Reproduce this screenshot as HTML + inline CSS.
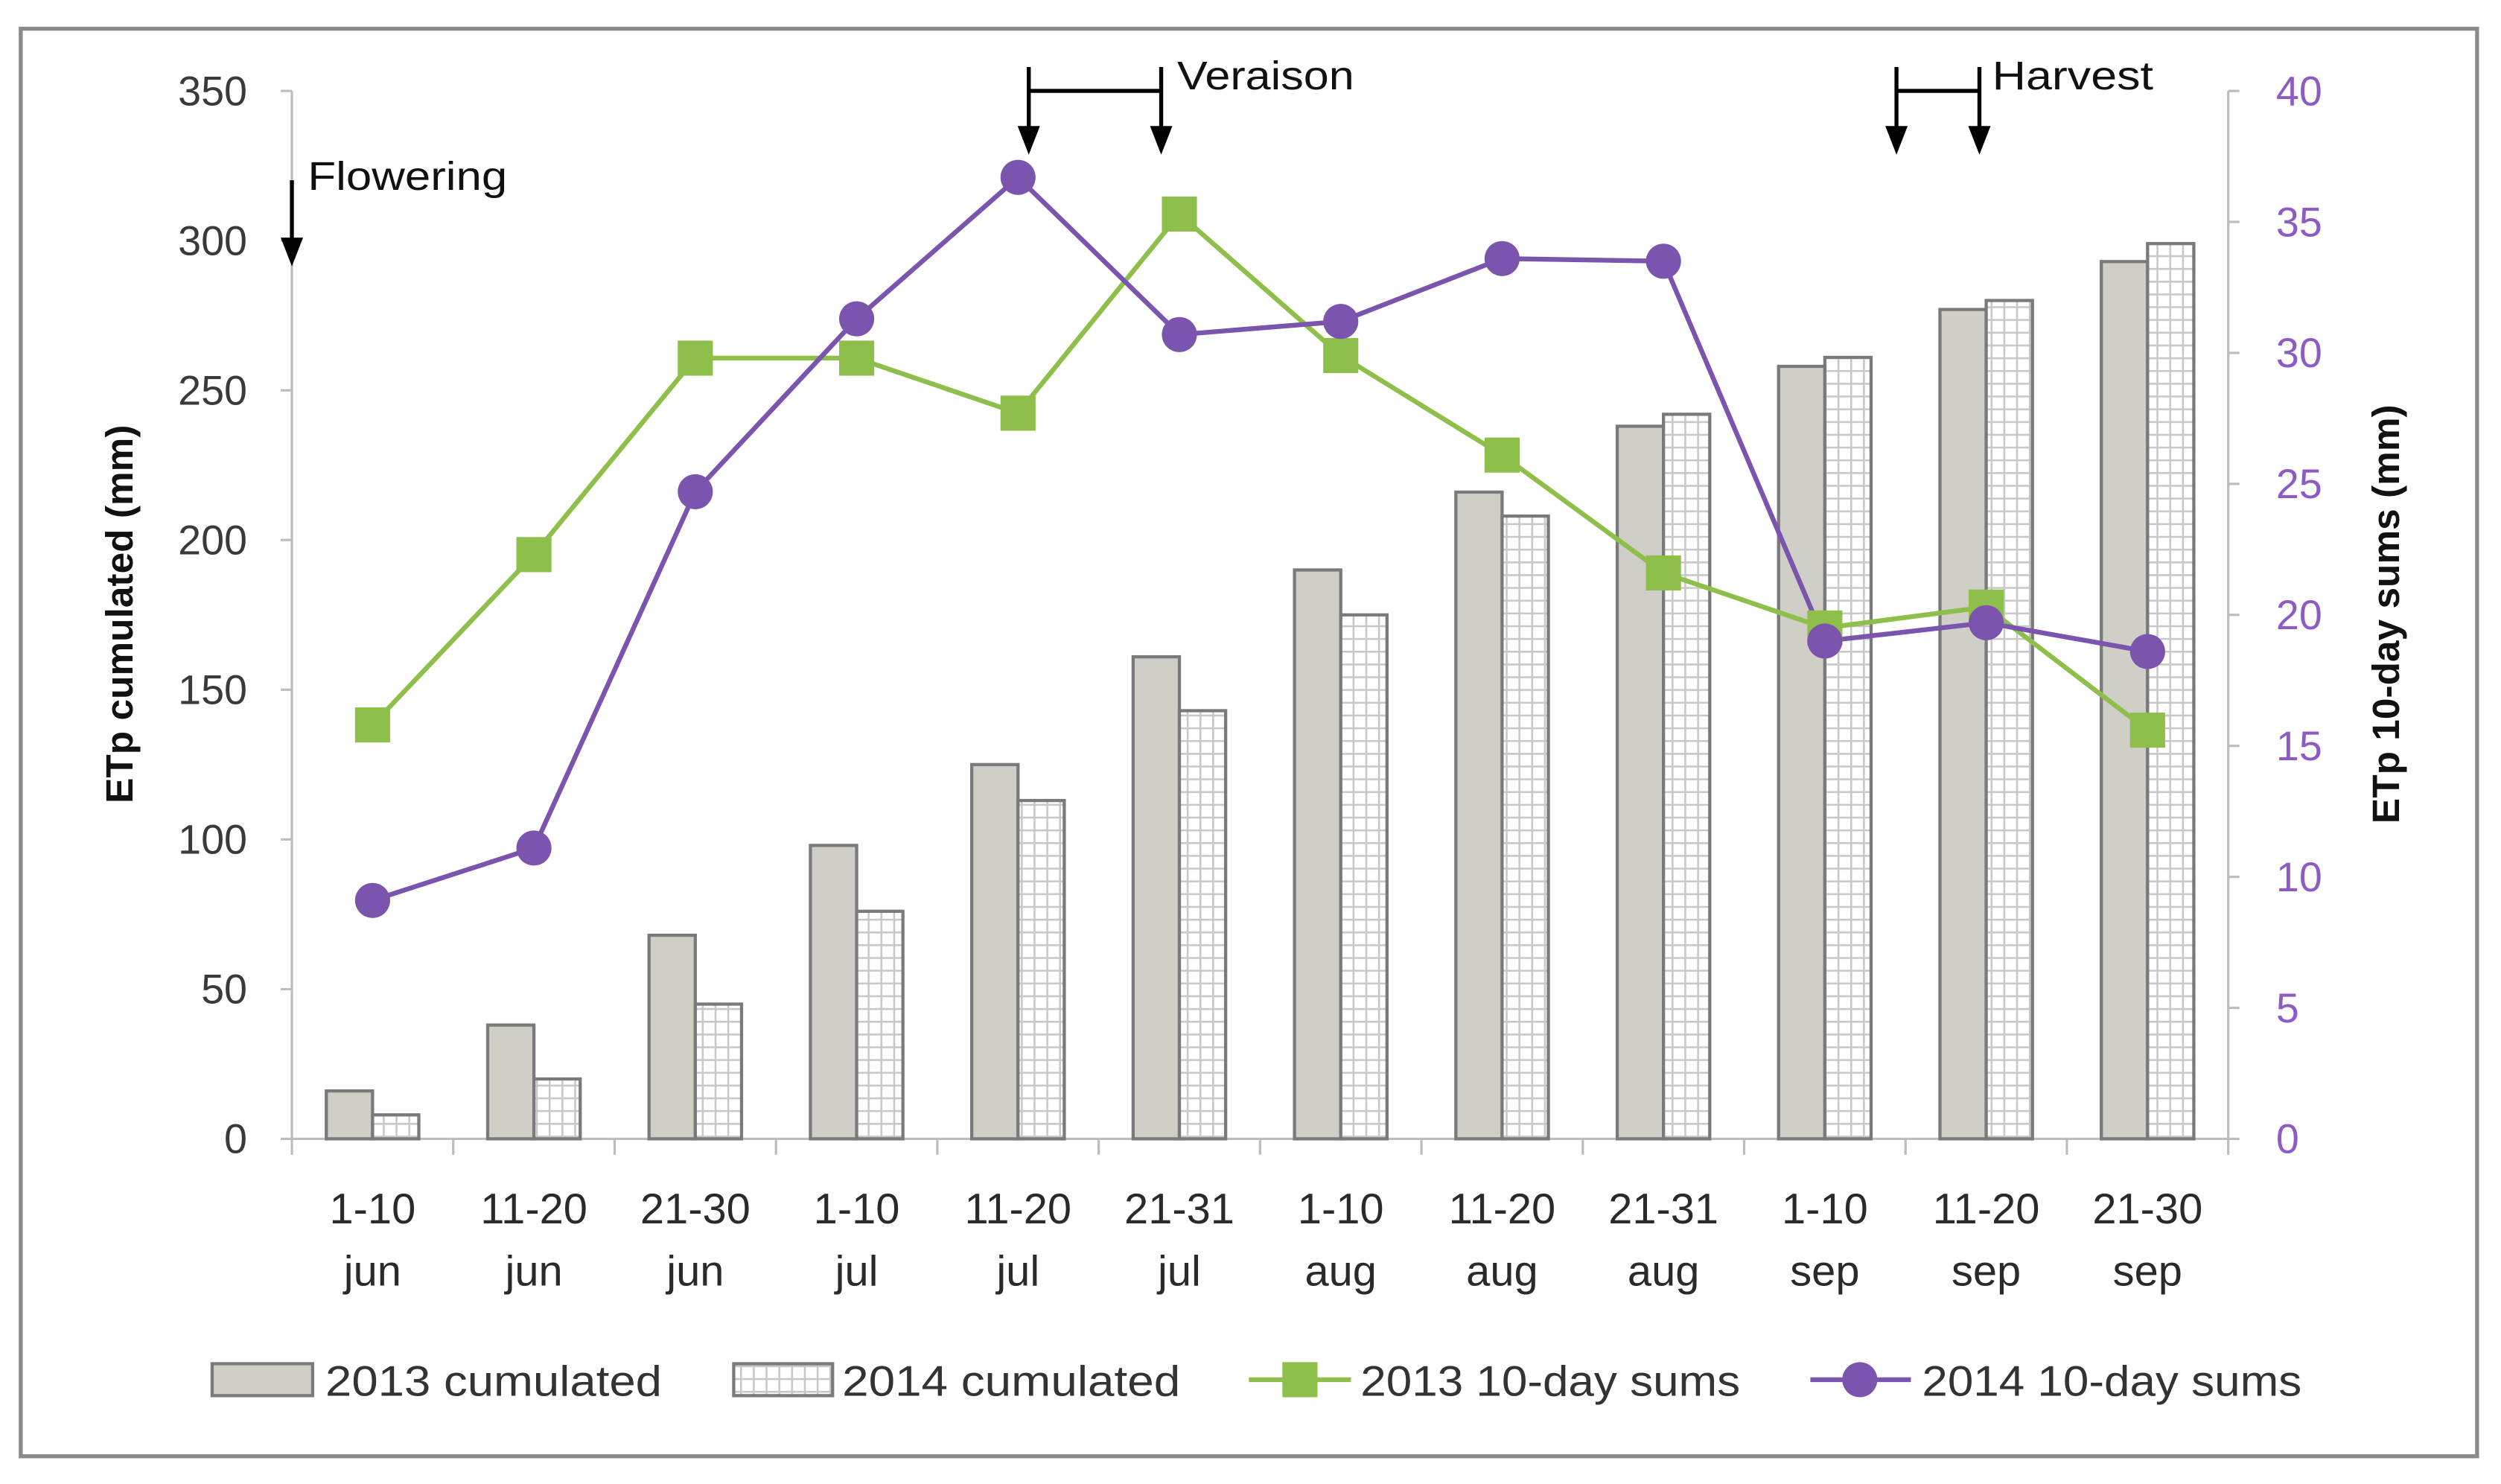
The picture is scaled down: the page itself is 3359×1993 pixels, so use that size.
<!DOCTYPE html>
<html><head><meta charset="utf-8"><style>
html,body{margin:0;padding:0;background:#fff;}
svg{display:block;}
text{font-family:"Liberation Sans",sans-serif;}
</style></head><body>
<svg id="chart" width="3359" height="1993" viewBox="0 0 1568 930.4" preserveAspectRatio="none" xmlns="http://www.w3.org/2000/svg">
<defs>
<pattern id="grid" width="8" height="8" patternUnits="userSpaceOnUse">
<rect width="8" height="8" fill="#fff"/>
<path d="M0 0.5H8M0.5 0V8" stroke="#c8c8c8" stroke-width="1.4"/>
</pattern>
</defs>
<rect x="13" y="18" width="1540" height="895" fill="#fff" stroke="#8a8a8a" stroke-width="2.5"/>
<g id="axes"></g>
<g id="bars"></g>
<g id="lines"></g>
<g id="annot"></g>
<g id="legend"></g>
</svg>
<script>
const categories = ["1-10|jun","11-20|jun","21-30|jun","1-10|jul","11-20|jul","21-31|jul","1-10|aug","11-20|aug","21-31|aug","1-10|sep","11-20|sep","21-30|sep"];
const cum2013 = [16,38,68,98,125,161,190,216,238,258,277,293];
const cum2014 = [8,20,45,76,113,143,175,208,242,261,280,299];
const sum2013 = [15.8,22.3,29.8,29.8,27.7,35.3,29.9,26.1,21.6,19.5,20.3,15.6];
const sum2014 = [9.1,11.1,24.7,31.3,36.7,30.7,31.2,33.6,33.5,19.0,19.7,18.6];
const leftTicks = [0,50,100,150,200,250,300,350];
const rightTicks = [0,5,10,15,20,25,30,35,40];

const NS="http://www.w3.org/2000/svg";
const X0=183, X1=1397, Y0=714, Y1=57;
const band=(X1-X0)/categories.length;
const xc=i=>X0+band*(i+0.5);
const yL=v=>Y0-(v/350)*(Y0-Y1);
const yR=v=>Y0-(v/40)*(Y0-Y1);
function mk(tag,attrs,parent,txt){const e=document.createElementNS(NS,tag);for(const k in attrs)e.setAttribute(k,attrs[k]);if(txt!==undefined)e.textContent=txt;parent.appendChild(e);return e;}
const axes=document.getElementById('axes'),bars=document.getElementById('bars'),lines=document.getElementById('lines'),annot=document.getElementById('annot'),legend=document.getElementById('legend');

let e=mk('line',{x1:X0,y1:Y1,x2:X0,y2:Y0,stroke:'#bdbdbd','stroke-width':1.5},axes);

e=mk('line',{x1:X1,y1:Y1,x2:X1,y2:Y0,stroke:'#bdbdbd','stroke-width':1.5},axes);

e=mk('line',{x1:X0,y1:Y0,x2:X1,y2:Y0,stroke:'#bdbdbd','stroke-width':1.5},axes);

leftTicks.forEach(v=>{
  mk('line',{x1:X0-7,y1:yL(v),x2:X0,y2:yL(v),stroke:'#bdbdbd','stroke-width':1.5},axes);
  e=mk('text',{x:155,y:yL(v)+9,'text-anchor':'end','font-size':26,fill:'#3a3a3a'},axes,String(v));
  
});
rightTicks.forEach(v=>{
  mk('line',{x1:X1,y1:yR(v),x2:X1+7,y2:yR(v),stroke:'#bdbdbd','stroke-width':1.5},axes);
  e=mk('text',{x:1427,y:yR(v)+9,'text-anchor':'start','font-size':26,fill:'#8a5cc4'},axes,String(v));
  
});
for(let i=0;i<=categories.length;i++){mk('line',{x1:X0+band*i,y1:Y0,x2:X0+band*i,y2:Y0+10,stroke:'#bdbdbd','stroke-width':1.5},axes);}
categories.forEach((c,i)=>{
  const p=c.split('|');
  e=mk('text',{x:xc(i),y:767,'text-anchor':'middle','font-size':27,fill:'#2a2a2a'},axes,p[0]);
  
  e=mk('text',{x:xc(i),y:806,'text-anchor':'middle','font-size':27,fill:'#2a2a2a'},axes,p[1]);
  
});
e=mk('text',{x:0,y:0,transform:'translate(83,385) rotate(-90)','text-anchor':'middle','font-size':24,'font-weight':'bold',fill:'#111'},axes,'ETp cumulated (mm)');

e=mk('text',{x:0,y:0,transform:'translate(1504,385) rotate(-90)','text-anchor':'middle','font-size':24,'font-weight':'bold',fill:'#111'},axes,'ETp 10-day sums (mm)');


const bw=29;
categories.forEach((c,i)=>{
  e=mk('rect',{x:xc(i)-bw,y:yL(cum2013[i]),width:bw,height:Y0-yL(cum2013[i]),fill:'#cfcfc8',stroke:'#7a7a7a','stroke-width':2},bars);
  
  e=mk('rect',{x:xc(i),y:yL(cum2014[i]),width:bw,height:Y0-yL(cum2014[i]),fill:'url(#grid)',stroke:'#7a7a7a','stroke-width':2},bars);
  
});

const G='#8dbf4a',P='#7b55ad';
e=mk('polyline',{points:sum2013.map((v,i)=>xc(i)+','+yR(v)).join(' '),fill:'none',stroke:G,'stroke-width':3},lines);

e=mk('polyline',{points:sum2014.map((v,i)=>xc(i)+','+yR(v)).join(' '),fill:'none',stroke:P,'stroke-width':3},lines);

sum2013.forEach((v,i)=>{e=mk('rect',{x:xc(i)-11,y:yR(v)-11,width:22,height:22,fill:G},lines);
  });
sum2014.forEach((v,i)=>{e=mk('circle',{cx:xc(i),cy:yR(v),r:11,fill:P},lines);
  });

function arrow(x,y1,y2){mk('line',{x1:x,y1:y1,x2:x,y2:y2-14,stroke:'#000','stroke-width':2.5},annot);
  mk('polygon',{points:`${x-7},${y2-18} ${x+7},${y2-18} ${x},${y2}`,fill:'#000'},annot);}
arrow(183,113,167);
e=mk('text',{x:193,y:119,'font-size':25,fill:'#111',textLength:125,lengthAdjust:'spacingAndGlyphs'},annot,'Flowering');

arrow(645,42,97);arrow(728,42,97);
mk('line',{x1:645,y1:57,x2:728,y2:57,stroke:'#000','stroke-width':2.5},annot);
e=mk('text',{x:738,y:56,'font-size':25,fill:'#111',textLength:111,lengthAdjust:'spacingAndGlyphs'},annot,'Veraison');

arrow(1189,42,97);arrow(1241,42,97);
mk('line',{x1:1189,y1:57,x2:1241,y2:57,stroke:'#000','stroke-width':2.5},annot);
e=mk('text',{x:1249,y:56,'font-size':25,fill:'#111',textLength:101,lengthAdjust:'spacingAndGlyphs'},annot,'Harvest');


const LY=865;
e=mk('rect',{x:133,y:LY-10,width:63,height:20,fill:'#cfcfc8',stroke:'#7a7a7a','stroke-width':2},legend);

e=mk('text',{x:204,y:LY+10,'font-size':27,fill:'#333',textLength:211,lengthAdjust:'spacingAndGlyphs'},legend,'2013 cumulated');

e=mk('rect',{x:460,y:LY-10,width:62,height:20,fill:'url(#grid)',stroke:'#7a7a7a','stroke-width':2},legend);

e=mk('text',{x:528,y:LY+10,'font-size':27,fill:'#333',textLength:212,lengthAdjust:'spacingAndGlyphs'},legend,'2014 cumulated');

mk('line',{x1:783,y1:LY,x2:847,y2:LY,stroke:G,'stroke-width':3},legend);
mk('rect',{x:804,y:LY-11,width:22,height:22,fill:G},legend);
e=mk('text',{x:853,y:LY+10,'font-size':27,fill:'#333',textLength:238,lengthAdjust:'spacingAndGlyphs'},legend,'2013 10-day sums');

mk('line',{x1:1135,y1:LY,x2:1198,y2:LY,stroke:P,'stroke-width':3},legend);
mk('circle',{cx:1166,cy:LY,r:11,fill:P},legend);
e=mk('text',{x:1205,y:LY+10,'font-size':27,fill:'#333',textLength:238,lengthAdjust:'spacingAndGlyphs'},legend,'2014 10-day sums');

</script>
</body></html>
